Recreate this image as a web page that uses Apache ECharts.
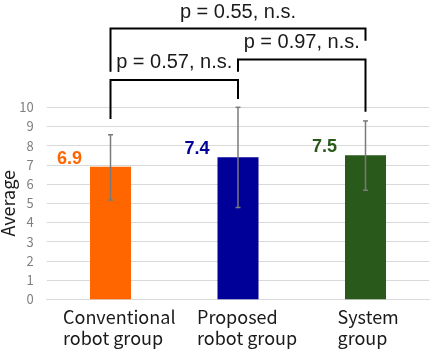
<!DOCTYPE html>
<html><head><meta charset="utf-8">
<script src="https://cdn.jsdelivr.net/npm/echarts@6/dist/echarts.min.js"></script>
<style>html,body{margin:0;padding:0;background:#fff}#c{width:432px;height:351px}</style>
</head><body><div id="c"></div>
<script>
const categories = ['Conventional\nrobot group', 'Proposed\nrobot group', 'System\ngroup'];
const means = [6.9, 7.4, 7.5];
const errLow = [5.17, 4.78, 5.68];
const errHigh = [8.57, 10.0, 9.29];
const barColors = ['#FF6600', '#000099', '#2A5A1B'];
const yTicks = [0, 1, 2, 3, 4, 5, 6, 7, 8, 9, 10];
// brackets: from category, to category, top level, leg ends, text level (axis units)
const bracketFrom = [0, 1, 0];
const bracketTo = [2, 2, 1];
const bracketTop = [14.1, 12.49, 11.42];
const bracketLeftEnd = [11.85, 11.85, 9.39];
const bracketRightEnd = [13.47, 9.77, 10.43];
const bracketTextLevel = [14.96, 13.36, 12.31];
const pLabels = ['p = 0.55, n.s.', 'p = 0.97, n.s.', 'p = 0.57, n.s.'];

const chart = echarts.init(document.getElementById('c'), null, {renderer: 'canvas'});
const labelWidths = [95, 82, 56];
const rich = {};
labelWidths.forEach((w, i) => { rich['c' + i] = {width: w, align: 'left', fontSize: 18, lineHeight: 21, color: '#1a1a1a', fontFamily: 'Noto Sans CJK JP'}; });

const option = {
  animation: false,
  grid: {left: 46.75, right: 2.75, top: 107.3, bottom: 51.7, containLabel: false, outerBoundsMode: 'none'},
  xAxis: {
    type: 'category', data: categories,
    axisLine: {lineStyle: {color: '#d9d9d9', width: 1}},
    axisTick: {show: false},
    axisLabel: {
      margin: 7, align: 'center', interval: 0,
      formatter: function (v, idx) { return v.split('\n').map(s => '{c' + idx + '|' + s + '}').join('\n'); },
      rich: rich
    }
  },
  yAxis: {
    type: 'value', min: 0, max: 10, interval: 1,
    name: 'Average', nameLocation: 'middle', nameGap: 30, nameRotate: 90, nameMoveOverlap: false,
    nameTextStyle: {fontSize: 18, color: '#1a1a1a', fontFamily: 'Noto Sans CJK JP'},
    axisLine: {show: false}, axisTick: {show: false},
    splitLine: {lineStyle: {color: '#d9d9d9', width: 1}},
    axisLabel: {margin: 13, fontSize: 13, color: '#7f7f7f', fontFamily: 'Noto Sans CJK JP',
      formatter: v => yTicks.indexOf(v) >= 0 ? String(v) : ''}
  },
  series: [
    {
      type: 'bar', barWidth: 41,
      data: means.map((v, i) => ({value: v, itemStyle: {color: barColors[i]},
        label: {color: barColors[i]}})),
      label: {show: true, position: [-8, -8], align: 'right', verticalAlign: 'middle',
        fontSize: 18, fontWeight: 'bold', fontFamily: 'Liberation Sans',
        formatter: p => p.value.toFixed(1)}
    },
    {
      type: 'custom', clip: false, z: 5,
      data: means.map((m, i) => [i, errLow[i], errHigh[i]]),
      encode: {x: 0, y: [1, 2]},
      renderItem: function (params, api) {
        const lo = api.coord([api.value(0), api.value(1)]);
        const hi = api.coord([api.value(0), api.value(2)]);
        const cap = 2.5;
        const st = {stroke: '#7a7a7a', lineWidth: 1.5};
        return {type: 'group', children: [
          {type: 'line', shape: {x1: lo[0], y1: lo[1], x2: hi[0], y2: hi[1]}, style: st},
          {type: 'line', shape: {x1: hi[0] - cap, y1: hi[1], x2: hi[0] + cap, y2: hi[1]}, style: st},
          {type: 'line', shape: {x1: lo[0] - cap, y1: lo[1], x2: lo[0] + cap, y2: lo[1]}, style: st}
        ]};
      }
    },
    {
      type: 'custom', clip: false, z: 6,
      data: pLabels.map((t, i) => [bracketFrom[i], bracketTo[i], bracketTop[i], bracketLeftEnd[i], bracketRightEnd[i], bracketTextLevel[i]]),
      encode: {x: [0, 1], y: [3]},
      renderItem: function (params, api) {
        const i = params.dataIndex;
        const tl = api.coord([api.value(0), api.value(2)]);
        const tr = api.coord([api.value(1), api.value(2)]);
        const le = api.coord([api.value(0), api.value(3)]);
        const re = api.coord([api.value(1), api.value(4)]);
        const ty = api.coord([api.value(0), api.value(5)])[1];
        const txx = (tl[0] + tr[0]) / 2;
        const st = {stroke: '#000', lineWidth: 2, fill: null};
        return {type: 'group', children: [
          {type: 'polyline', shape: {points: [[le[0], le[1]], [tl[0], tl[1]], [tr[0], tr[1]], [re[0], re[1]]]}, style: st},
          {type: 'text', x: txx, y: ty, style: {text: pLabels[i], fill: '#1a1a1a', align: 'center', verticalAlign: 'middle',
            font: '20px "Liberation Sans"'}}
        ]};
      }
    }
  ]
};
chart.setOption(option);
</script></body></html>
